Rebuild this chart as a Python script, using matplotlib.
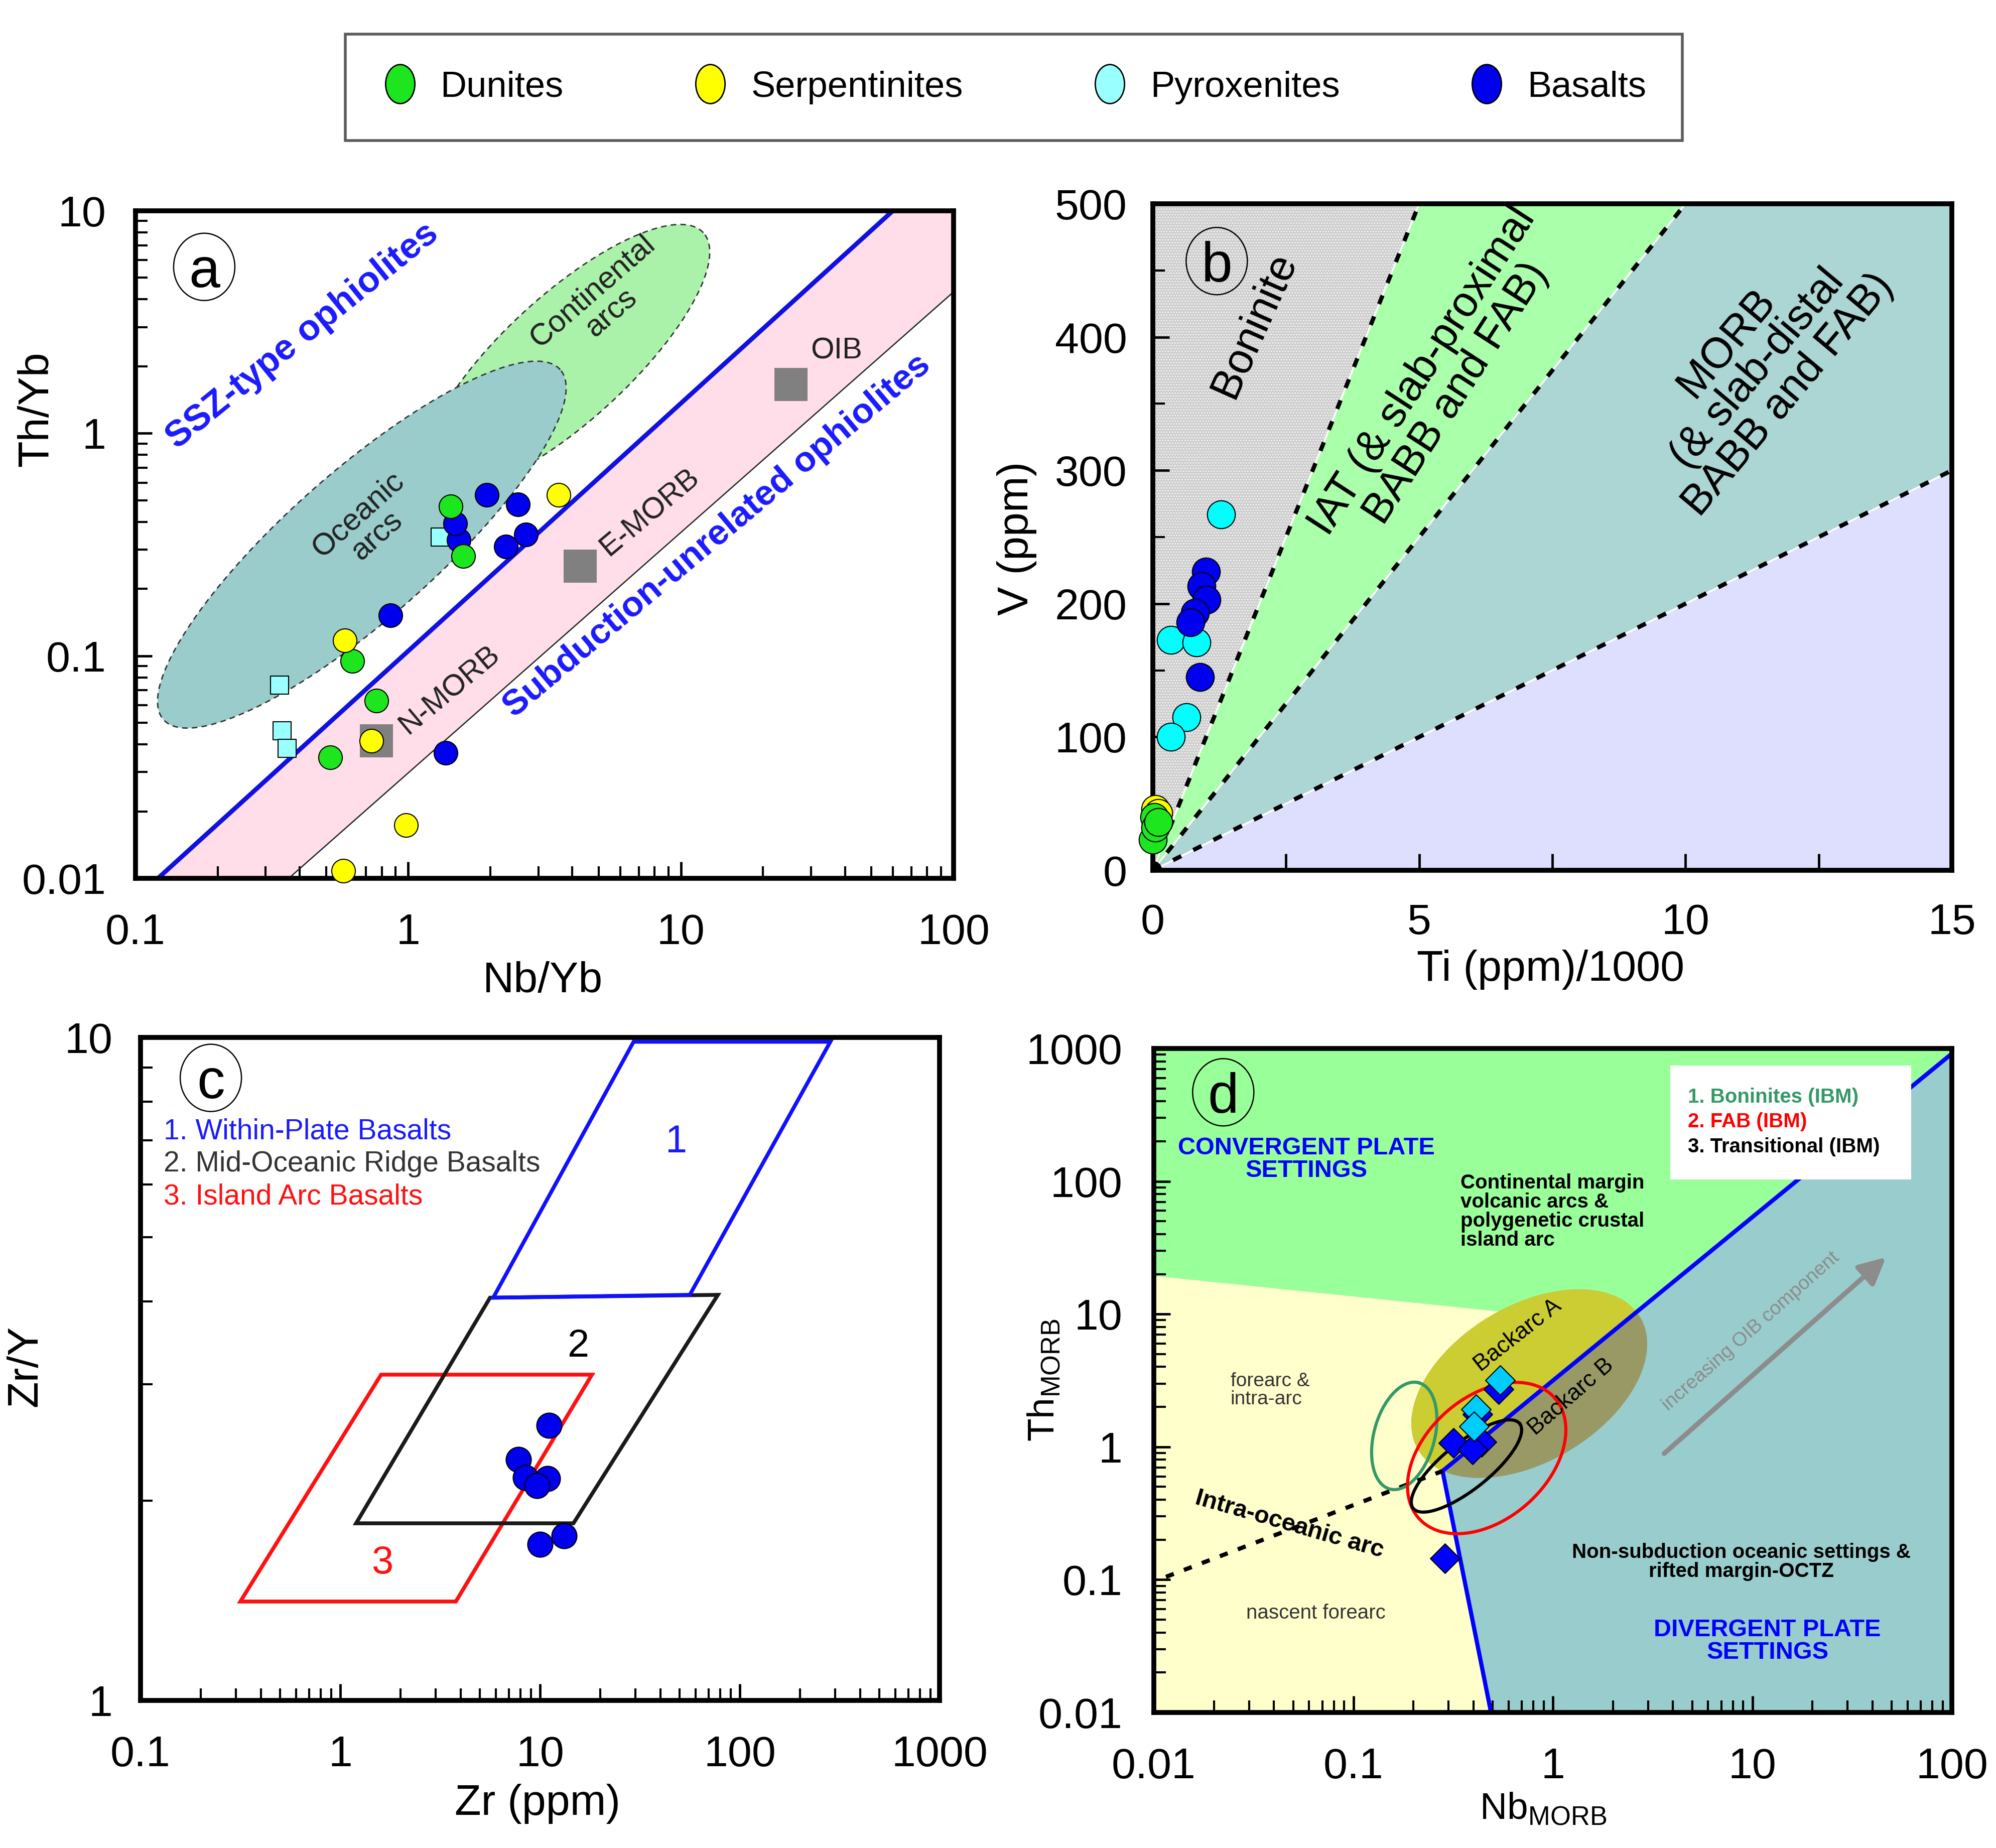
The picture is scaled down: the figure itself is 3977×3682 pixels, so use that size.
import matplotlib
matplotlib.use("Agg")
import matplotlib.pyplot as plt
import numpy as np
from matplotlib.patches import Polygon, Ellipse, Rectangle
from matplotlib.lines import Line2D
from matplotlib.path import Path
from matplotlib.ticker import NullFormatter

plt.rcParams['font.family'] = ['Liberation Sans', 'DejaVu Sans']
plt.rcParams['mathtext.fontset'] = 'custom'
plt.rcParams['mathtext.rm'] = 'Liberation Sans'
plt.rcParams['hatch.linewidth'] = 1.5

W, H = 3977, 3682

# colours
GREEN = '#1ee61e'
YELLOW = '#ffff00'
LCYAN = '#99ffff'
CYAN = '#00ffff'
BLUE = '#0000ee'

# ---------------- panel a : Th/Yb vs Nb/Yb ----------------
A_DUN_NB = [1.43, 1.59, 0.625, 0.764, 0.517]
A_DUN_TH = [0.47, 0.28, 0.095, 0.063, 0.035]
A_SER_NB = [3.56, 0.585, 0.733, 0.98, 0.578]
A_SER_TH = [0.53, 0.117, 0.0415, 0.0173, 0.0108]
A_PYR_NB = [0.338, 0.345, 0.36, 1.31]
A_PYR_TH = [0.074, 0.0461, 0.0383, 0.341]
A_BAS_NB = [1.94, 2.53, 2.7, 2.28, 0.86, 1.37, 1.53, 1.49]
A_BAS_TH = [0.53, 0.48, 0.35, 0.31, 0.152, 0.0366, 0.332, 0.394]
A_REF_NB = [0.764, 4.28, 25.3]          # N-MORB, E-MORB, OIB
A_REF_TH = [0.0415, 0.253, 1.66]
A_ARRAY_X = [0.1, 100]                  # MORB-OIB array limits
A_ARRAY_TOP = [0.0081, 17.7]
A_ARRAY_BOT = [0.00247, 4.32]
# ellipses: centre x, centre y, semi axes (x-decades), screen angle
A_OCEANIC = (0.676, 0.316, 0.97, 0.27, 41.4)
A_CONTINENTAL = (3.81, 2.18, 0.68, 0.23, 42.5)
A_XTICKS = [0.1, 1, 10, 100]
A_XLABELS = ['0.1', '1', '10', '100']
A_YTICKS = [0.01, 0.1, 1, 10]
A_YLABELS = ['0.01', '0.1', '1', '10']

# ---------------- panel b : V vs Ti/1000 ----------------
B_DUN_TI = [0.03, 0.0, 0.05, 0.1]
B_DUN_V = [40, 23, 32, 36]
B_SER_TI = [0.05, 0.1]
B_SER_V = [46, 43]
B_PYR_TI = [1.28, 0.34, 0.82, 0.63, 0.34]
B_PYR_V = [267, 173, 171, 115, 100]
B_BAS_TI = [1.0, 0.91, 1.01, 0.79, 0.71, 0.89]
B_BAS_V = [224, 213, 203, 193, 186, 145]
B_TIV_RATIOS = [10, 20, 50]             # Ti/V field boundaries

# ---------------- panel c : Zr/Y vs Zr ----------------
C_BAS_ZR = [11.1, 7.78, 8.47, 10.9, 9.64, 13.2, 10.0]
C_BAS_ZRY = [2.6, 2.31, 2.17, 2.16, 2.11, 1.77, 1.72]
C_WPB_ZR = [5.83, 29.4, 284, 56.2]
C_WPB_ZRY = [4.05, 9.85, 9.85, 4.09]
C_MORB_ZR = [1.2, 5.62, 77.7, 14.7]
C_MORB_ZRY = [1.85, 4.05, 4.09, 1.85]
C_IAB_ZR = [0.316, 1.6, 18.2, 3.79]
C_IAB_ZRY = [1.41, 3.1, 3.1, 1.41]

# ---------------- panel d : Th_MORB vs Nb_MORB ----------------
D_CYAN_NB = [0.545, 0.412, 0.403]
D_CYAN_TH = [3.18, 1.92, 1.43]
D_BLUE_NB = [0.535, 0.42, 0.318, 0.44, 0.395, 0.288]
D_BLUE_TH = [2.72, 1.75, 1.07, 1.09, 0.955, 0.145]
D_LINE_X = [0.49, 0.28, 100]            # blue divide
D_LINE_Y = [0.01, 0.658, 914]
D_YEL_X = [0.01, 2.21]                  # forearc upper limit
D_YEL_Y = [19.4, 8.4]
D_IOA_X = [0.0115, 0.28]                # intra-oceanic arc trend
D_IOA_Y = [0.105, 0.658]
D_OIB_ARROW = [(3.57, 0.877), (47.3, 27.2)]
D_BACKARC = (0.762, 2.99, 0.648, 0.391, 30.9)
D_FAB = (0.466, 0.824, 0.455, 0.307, 41.5)
D_TRANS = (0.369, 0.718, 0.341, 0.117, 38.5)
D_BON = (0.18, 1.21, 0.276, 0.152, 74.7)


def log_ellipse(params, r, n=300):
    cx, cy, a, b, ang = params
    t = np.linspace(0, 2 * np.pi, n)
    u, v = a * np.cos(t), b * np.sin(t)
    th = np.radians(ang)
    xl = np.log10(cx) + u * np.cos(th) - v * np.sin(th)
    yl = np.log10(cy) + (u * np.sin(th) + v * np.cos(th)) / r
    return 10 ** xl, 10 ** yl


def add_ax(l, t, r, b):
    return fig.add_axes([l / W, 1 - b / H, (r - l) / W, (b - t) / H])


def style(ax, xpad, ypad):
    for s in ax.spines.values():
        s.set_linewidth(7)
    ax.tick_params(which='both', direction='in', top=False, right=False, labelsize=62)
    ax.tick_params(axis='x', which='both', pad=xpad)
    ax.tick_params(axis='y', which='both', pad=ypad)
    ax.tick_params(which='major', length=24, width=3.5)
    ax.tick_params(which='minor', length=17, width=3)


def labels(ax, xl, yl, xpos, ypos, size=62):
    ax.set_xlabel(xl, fontsize=size)
    ax.set_ylabel(yl, fontsize=size)
    ax.xaxis.set_label_coords(*xpos)
    ax.yaxis.set_label_coords(*ypos)
    ax.xaxis.label.set_va('center')
    ax.yaxis.label.set_va('center')


def tag(ax, letter, fx, fy):
    bb = ax.get_position()
    w = 122 / (bb.width * W)
    h = 134 / (bb.height * H)
    ax.add_patch(Ellipse((fx, fy), w, h, transform=ax.transAxes, fc='none',
                         ec='black', lw=1.8, zorder=6))
    ax.text(fx, fy, letter, transform=ax.transAxes, ha='center', va='center_baseline',
            fontsize=80, zorder=7)


fig = plt.figure(figsize=(W / 100, H / 100), dpi=100)

# ================= panel a =================
ax = add_ax(270, 420, 1900, 1750)
ax.set_xscale('log')
ax.set_yscale('log')
ax.set_xlim(0.1, 100)
ax.set_ylim(0.01, 10)
xs = np.logspace(-1, 2, 50)
top = 10 ** np.interp(np.log10(xs), np.log10(A_ARRAY_X), np.log10(A_ARRAY_TOP))
bot = 10 ** np.interp(np.log10(xs), np.log10(A_ARRAY_X), np.log10(A_ARRAY_BOT))
ax.fill_between(xs, bot, top, color='#ffdde9', lw=0, zorder=0.5)
ax.plot(A_ARRAY_X, A_ARRAY_TOP, color='#1010e0', lw=6.5, zorder=2)
ax.plot(A_ARRAY_X, A_ARRAY_BOT, color='#222222', lw=1.8, zorder=2)
ex, ey = log_ellipse(A_CONTINENTAL, 443.3 / 543.3)
ax.fill(ex, ey, fc='#aaf2aa', ec='#333333', lw=2, ls=(0, (4, 3)), zorder=0.6)
ex, ey = log_ellipse(A_OCEANIC, 443.3 / 543.3)
ax.fill(ex, ey, fc='#9acccc', ec='#333333', lw=2, ls=(0, (4, 3)), zorder=0.7)
ax.scatter(A_REF_NB, A_REF_TH, marker='s', s=2300, c='#808080', lw=0, zorder=3)
ax.scatter(A_PYR_NB, A_PYR_TH, marker='s', s=650, c=LCYAN, ec='black', lw=1.5, zorder=4)
ax.scatter(A_BAS_NB, A_BAS_TH, s=1150, c=BLUE, ec='black', lw=1.5, zorder=4)
ax.scatter(A_DUN_NB, A_DUN_TH, s=1150, c=GREEN, ec='black', lw=1.5, zorder=4)
ax.scatter(A_SER_NB, A_SER_TH, s=1150, c=YELLOW, ec='black', lw=1.5, zorder=4, clip_on=False)
ax.text(0.41, 2.74, 'SSZ-type ophiolites', color='#1a1aff', fontsize=52, fontweight='bold',
        rotation=39, ha='center', va='center', zorder=5)
ax.text(13.6, 0.344, 'Subduction-unrelated ophiolites', color='#1a1aff', fontsize=51,
        fontweight='bold', rotation=40, ha='center', va='center', zorder=5)
ax.text(0.71, 0.385, 'Oceanic\narcs', fontsize=44, rotation=42, ha='center', va='center',
        color='#222222', linespacing=1.0, zorder=5)
ax.text(5.15, 3.88, 'Continental\narcs', fontsize=44, rotation=41, ha='center', va='center',
        color='#222222', linespacing=1.0, zorder=5)
ax.text(1.42, 0.0703, 'N-MORB', fontsize=43, rotation=40, ha='center', va='center',
        color='#222222', zorder=5)
ax.text(7.67, 0.44, 'E-MORB', fontsize=43, rotation=40, ha='center', va='center',
        color='#222222', zorder=5)
ax.text(37.2, 2.35, 'OIB', fontsize=43, ha='center', va='center', color='#222222', zorder=5)
ax.set_xticks(A_XTICKS)
ax.set_xticklabels(A_XLABELS)
ax.set_yticks(A_YTICKS)
ax.set_yticklabels(A_YLABELS)
ax.xaxis.set_minor_formatter(NullFormatter())
ax.yaxis.set_minor_formatter(NullFormatter())
style(ax, 50, 42)
labels(ax, 'Nb/Yb', 'Th/Yb', (0.498, -0.154), (-0.121, 0.703))
tag(ax, 'a', 0.084, 0.916)

# ================= panel b =================
ax = add_ax(2297, 406, 3889, 1734)
ax.set_xlim(0, 15)
ax.set_ylim(0, 500)
xmax, ymax = 15, 500
edges = []
for rat in B_TIV_RATIOS:
    k = 1000.0 / rat
    if k * xmax >= ymax:
        edges.append((ymax / k, ymax))
    else:
        edges.append((xmax, k * xmax))
ax.add_patch(Polygon([(0, 0), (0, ymax), edges[0]], closed=True, fc='#cdcdcd',
                     hatch='...', ec='#f4f4f4', lw=0, zorder=0.5))
ax.add_patch(Polygon([(0, 0), edges[0], edges[1]], closed=True, fc='#aaffaa', lw=0, zorder=0.5))
ax.add_patch(Polygon([(0, 0), edges[1], (xmax, ymax), edges[2]], closed=True, fc='#acd6d4',
                     lw=0, zorder=0.5))
ax.add_patch(Polygon([(0, 0), edges[2], (xmax, 0)], closed=True, fc='#dedeff', lw=0, zorder=0.5))
for ex_, ey_ in edges:
    ax.plot([0, ex_], [0, ey_], color='white', lw=2.5, zorder=1)
    ax.plot([0, ex_], [0, ey_], color='black', lw=6, dashes=(2.2, 3.2), zorder=1.1)
ax.scatter(B_DUN_TI, B_DUN_V, s=1600, c=GREEN, ec='black', lw=1.5, zorder=4, clip_on=False)
ax.scatter(B_SER_TI, B_SER_V, s=1600, c=YELLOW, ec='black', lw=1.5, zorder=3.9, clip_on=False)
ax.scatter(B_PYR_TI, B_PYR_V, s=1600, c=CYAN, ec='black', lw=1.5, zorder=4)
ax.scatter(B_BAS_TI, B_BAS_V, s=1600, c=BLUE, ec='black', lw=1.5, zorder=4)
ax.text(1.91, 409, 'Boninite', fontsize=61, rotation=66, ha='center', va='center', zorder=5)
ax.text(5.38, 366, 'IAT (& slab-proximal\nBABB and FAB)', fontsize=61, rotation=57,
        ha='center', va='center', linespacing=1.0, zorder=5)
ax.text(11.35, 376, 'MORB\n(& slab-distal\nBABB and FAB)', fontsize=61, rotation=50,
        ha='center', va='center', linespacing=1.0, zorder=5)
ax.set_xticks([0, 5, 10, 15])
ax.set_xticks([2.5, 7.5, 12.5], minor=True)
ax.set_yticks(range(0, 501, 100))
ax.set_yticks(range(50, 500, 100), minor=True)
style(ax, 47, 37)
ax.tick_params(axis='x', which='minor', length=24, width=3.5)
labels(ax, 'Ti (ppm)/1000', 'V (ppm)', (0.498, -0.149), (-0.17, 0.498))
tag(ax, 'b', 0.08, 0.914)

# ================= panel c =================
ax = add_ax(280, 2067, 1872, 3388)
ax.set_xscale('log')
ax.set_yscale('log')
ax.set_xlim(0.1, 1000)
ax.set_ylim(1, 10)
ax.add_patch(Polygon(np.column_stack([C_IAB_ZR, C_IAB_ZRY]), closed=True, fc='none',
                     ec='#ff1010', lw=5.5, zorder=2))
ax.add_patch(Polygon(np.column_stack([C_MORB_ZR, C_MORB_ZRY]), closed=True, fc='none',
                     ec='#1a1a1a', lw=5.5, zorder=2))
ax.add_patch(Polygon(np.column_stack([C_WPB_ZR, C_WPB_ZRY]), closed=True, fc='none',
                     ec='#1010ff', lw=5.5, zorder=2.1))
ax.scatter(C_BAS_ZR, C_BAS_ZRY, s=1300, c=BLUE, ec='black', lw=1.5, zorder=4)
ax.text(48, 6.95, '1', color='#1a1aff', fontsize=56, ha='center', va='center')
ax.text(15.5, 3.42, '2', color='black', fontsize=56, ha='center', va='center')
ax.text(1.62, 1.61, '3', color='#ff1010', fontsize=56, ha='center', va='center')
for i, (txt, col) in enumerate([('1. Within-Plate Basalts', '#1a1aff'),
                                ('2. Mid-Oceanic Ridge Basalts', '#333333'),
                                ('3. Island Arc Basalts', '#ff1010')]):
    ax.text(0.029, 0.858 - 0.049 * i, txt, color=col, fontsize=41, ha='left', va='center',
            transform=ax.transAxes)
ax.set_xticks([0.1, 1, 10, 100, 1000])
ax.set_xticklabels(['0.1', '1', '10', '100', '1000'])
ax.set_yticks([1, 10])
ax.set_yticklabels(['1', '10'])
ax.xaxis.set_minor_formatter(NullFormatter())
ax.yaxis.set_minor_formatter(NullFormatter())
style(ax, 50, 40)
labels(ax, 'Zr (ppm)', 'Zr/Y', (0.497, -0.156), (-0.144, 0.504))
tag(ax, 'c', 0.088, 0.939)

# ================= panel d =================
ax = add_ax(2299, 2089, 3889, 3412)
ax.set_xscale('log')
ax.set_yscale('log')
ax.set_xlim(0.01, 100)
ax.set_ylim(0.01, 1000)
ax.set_facecolor('#99cccc')
rd = 264.6 / 397.5
green_poly = [(0.01, D_YEL_Y[0]), (0.01, 1000), (100, 1000), (D_LINE_X[2], D_LINE_Y[2]),
              (D_YEL_X[1], D_YEL_Y[1])]
yel_poly = [(0.01, 0.01), (0.01, D_YEL_Y[0]), (D_YEL_X[1], D_YEL_Y[1]),
            (D_LINE_X[1], D_LINE_Y[1]), (D_LINE_X[0], D_LINE_Y[0])]
left_poly = [(0.01, 0.01), (0.01, 1000), (100, 1000), (D_LINE_X[2], D_LINE_Y[2]),
             (D_LINE_X[1], D_LINE_Y[1]), (D_LINE_X[0], D_LINE_Y[0])]
ax.add_patch(Polygon(green_poly, closed=True, fc='#99ff99', lw=0, zorder=0.5))
ax.add_patch(Polygon(yel_poly, closed=True, fc='#ffffcc', lw=0, zorder=0.5))
ex, ey = log_ellipse(D_BACKARC, rd)
ax.fill(ex, ey, fc='#999966', lw=0, zorder=0.7)
pa = ax.fill(ex, ey, fc='#cccc33', lw=0, zorder=0.8)[0]
clip = Polygon(left_poly, closed=True, transform=ax.transData)
pa.set_clip_path(clip)
ax.plot(D_LINE_X, D_LINE_Y, color='#0000ff', lw=6, zorder=2)
ax.plot(D_IOA_X, D_IOA_Y, color='black', lw=6, dashes=(2.0, 2.6), zorder=2)
for prm, col in [(D_BON, '#339966'), (D_FAB, '#ff0000'), (D_TRANS, 'black')]:
    ex, ey = log_ellipse(prm, rd)
    ax.plot(ex, ey, color=col, lw=4.5, zorder=3)
ax.annotate('', xy=D_OIB_ARROW[1], xytext=D_OIB_ARROW[0],
            arrowprops=dict(arrowstyle='-|>', mutation_scale=80, lw=7, color='#8c8c8c'),
            zorder=2)
ax.scatter(D_BLUE_NB, D_BLUE_TH, marker='D', s=900, c='#0000ff', ec='black', lw=1.5, zorder=4)
ax.scatter(D_CYAN_NB, D_CYAN_TH, marker='D', s=900, c='#00ccff', ec='black', lw=1.5, zorder=4.1)
T = ax.transAxes
ax.text(0.191, 0.833, 'CONVERGENT PLATE\nSETTINGS', transform=T, color='#0000ff', fontsize=35,
        fontweight='bold', ha='center', va='center', linespacing=1.0)
ax.text(0.384, 0.754, 'Continental margin\nvolcanic arcs &\npolygenetic crustal\nisland arc',
        transform=T, fontsize=29, fontweight='bold', ha='left', va='center', linespacing=1.0)
ax.text(0.096, 0.485, 'forearc &\nintra-arc', transform=T, fontsize=28, ha='left', va='center',
        color='#333333', linespacing=1.0)
ax.text(0.17, 0.283, 'Intra-oceanic arc', transform=T, fontsize=35, fontweight='bold',
        rotation=-16, ha='center', va='center')
ax.text(0.203, 0.15, 'nascent forearc', transform=T, fontsize=29, ha='center', va='center',
        color='#333333')
ax.text(0.736, 0.227, 'Non-subduction oceanic settings &\nrifted margin-OCTZ', transform=T,
        fontsize=29, fontweight='bold', ha='center', va='center', linespacing=1.0)
ax.text(0.769, 0.107, 'DIVERGENT PLATE\nSETTINGS', transform=T, color='#0000ff', fontsize=35,
        fontweight='bold', ha='center', va='center', linespacing=1.0)
ax.text(0.456, 0.568, 'Backarc A', transform=T, fontsize=33, rotation=38, ha='center',
        va='center', zorder=5)
ax.text(0.523, 0.475, 'Backarc B', transform=T, fontsize=33, rotation=41, ha='center',
        va='center', zorder=5)
ax.text(0.748, 0.574, 'increasing OIB component', transform=T, fontsize=28, rotation=41.5,
        ha='center', va='center', color='#8c8c8c')
ax.add_patch(Rectangle((0.647, 0.803), 0.302, 0.171, transform=T, fc='white', ec='none',
                       zorder=5))
for i, (txt, col) in enumerate([('1. Boninites (IBM)', '#339966'),
                                ('2. FAB (IBM)', '#ff0000'),
                                ('3. Transitional (IBM)', 'black')]):
    ax.text(0.669, 0.927 - 0.0375 * i, txt, transform=T, color=col, fontsize=29,
            fontweight='bold', ha='left', va='center', zorder=6)
ax.set_xticks([0.01, 0.1, 1, 10, 100])
ax.set_xticklabels(['0.01', '0.1', '1', '10', '100'])
ax.set_yticks([0.01, 0.1, 1, 10, 100, 1000])
ax.set_yticklabels(['0.01', '0.1', '1', '10', '100', '1000'])
ax.xaxis.set_minor_formatter(NullFormatter())
ax.yaxis.set_minor_formatter(NullFormatter())
style(ax, 50, 45)
labels(ax, r'Nb$_{\mathrm{MORB}}$', r'Th$_{\mathrm{MORB}}$', (0.488, -0.145), (-0.138, 0.501),
       size=54)
tag(ax, 'd', 0.087, 0.934)

# ================= top legend =================
circ = Path.unit_circle()
leg_marker = Path(circ.vertices * np.array([0.75, 1.0]), circ.codes)
names = ['Dunites', 'Serpentinites', 'Pyroxenites', 'Basalts']
cols = [GREEN, YELLOW, LCYAN, BLUE]
handles = [Line2D([], [], ls='none', marker=leg_marker, ms=56, mfc=c, mec='black', mew=2)
           for c in cols]
leg = fig.legend(handles, names, loc='center', bbox_to_anchor=(0.508, 0.9527), ncol=4,
                 fontsize=52, frameon=True, fancybox=False, edgecolor='#333333',
                 borderpad=1.0, handlelength=1.0, handletextpad=0.62, columnspacing=3.55)
leg.get_frame().set_linewidth(4)

fig.savefig('out.png', dpi=100, facecolor='white')
